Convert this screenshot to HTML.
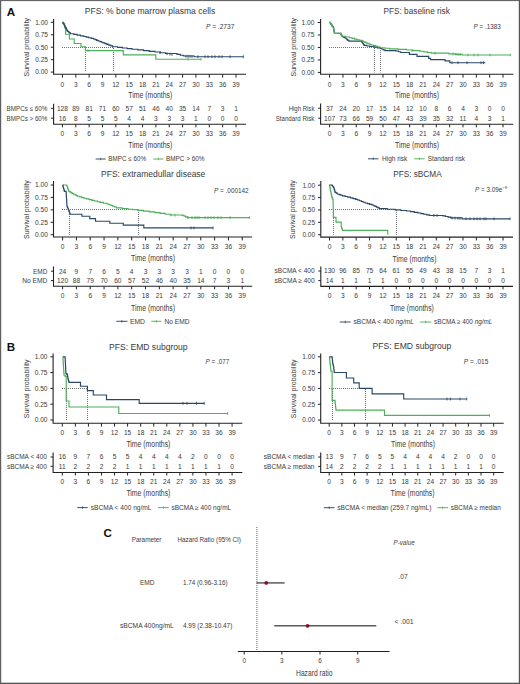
<!DOCTYPE html>
<html><head><meta charset="utf-8"><style>html,body{margin:0;padding:0;background:#fff;width:520px;height:684px;overflow:hidden;}svg{display:block;}</style></head><body>
<svg width="520" height="684" viewBox="0 0 520 684" font-family="'Liberation Sans', sans-serif" fill="#3a3a3a">
<rect x="0" y="0" width="520" height="684" fill="#fff"/>
<path d="M53.60,19.00V74.20H246.00" fill="none" stroke="#222" stroke-width="1.1"/>
<line x1="50.80" y1="72.10" x2="53.60" y2="72.10" stroke="#222" stroke-width="1.0" />
<text x="48.00" y="74.44" font-size="6.6" text-anchor="end" textLength="12.80" lengthAdjust="spacingAndGlyphs">0.00</text>
<line x1="50.80" y1="59.65" x2="53.60" y2="59.65" stroke="#222" stroke-width="1.0" />
<text x="48.00" y="61.99" font-size="6.6" text-anchor="end" textLength="12.80" lengthAdjust="spacingAndGlyphs">0.25</text>
<line x1="50.80" y1="47.20" x2="53.60" y2="47.20" stroke="#222" stroke-width="1.0" />
<text x="48.00" y="49.54" font-size="6.6" text-anchor="end" textLength="12.80" lengthAdjust="spacingAndGlyphs">0.50</text>
<line x1="50.80" y1="34.75" x2="53.60" y2="34.75" stroke="#222" stroke-width="1.0" />
<text x="48.00" y="37.09" font-size="6.6" text-anchor="end" textLength="12.80" lengthAdjust="spacingAndGlyphs">0.75</text>
<line x1="50.80" y1="22.30" x2="53.60" y2="22.30" stroke="#222" stroke-width="1.0" />
<text x="48.00" y="24.64" font-size="6.6" text-anchor="end" textLength="12.80" lengthAdjust="spacingAndGlyphs">1.00</text>
<line x1="62.45" y1="74.20" x2="62.45" y2="77.60" stroke="#222" stroke-width="1.0" />
<text x="62.45" y="86.54" font-size="6.6" text-anchor="middle">0</text>
<line x1="75.80" y1="74.20" x2="75.80" y2="77.60" stroke="#222" stroke-width="1.0" />
<text x="75.80" y="86.54" font-size="6.6" text-anchor="middle">3</text>
<line x1="89.15" y1="74.20" x2="89.15" y2="77.60" stroke="#222" stroke-width="1.0" />
<text x="89.15" y="86.54" font-size="6.6" text-anchor="middle">6</text>
<line x1="102.50" y1="74.20" x2="102.50" y2="77.60" stroke="#222" stroke-width="1.0" />
<text x="102.50" y="86.54" font-size="6.6" text-anchor="middle">9</text>
<line x1="115.85" y1="74.20" x2="115.85" y2="77.60" stroke="#222" stroke-width="1.0" />
<text x="115.85" y="86.54" font-size="6.6" text-anchor="middle">12</text>
<line x1="129.20" y1="74.20" x2="129.20" y2="77.60" stroke="#222" stroke-width="1.0" />
<text x="129.20" y="86.54" font-size="6.6" text-anchor="middle">15</text>
<line x1="142.55" y1="74.20" x2="142.55" y2="77.60" stroke="#222" stroke-width="1.0" />
<text x="142.55" y="86.54" font-size="6.6" text-anchor="middle">18</text>
<line x1="155.90" y1="74.20" x2="155.90" y2="77.60" stroke="#222" stroke-width="1.0" />
<text x="155.90" y="86.54" font-size="6.6" text-anchor="middle">21</text>
<line x1="169.25" y1="74.20" x2="169.25" y2="77.60" stroke="#222" stroke-width="1.0" />
<text x="169.25" y="86.54" font-size="6.6" text-anchor="middle">24</text>
<line x1="182.60" y1="74.20" x2="182.60" y2="77.60" stroke="#222" stroke-width="1.0" />
<text x="182.60" y="86.54" font-size="6.6" text-anchor="middle">27</text>
<line x1="195.95" y1="74.20" x2="195.95" y2="77.60" stroke="#222" stroke-width="1.0" />
<text x="195.95" y="86.54" font-size="6.6" text-anchor="middle">30</text>
<line x1="209.30" y1="74.20" x2="209.30" y2="77.60" stroke="#222" stroke-width="1.0" />
<text x="209.30" y="86.54" font-size="6.6" text-anchor="middle">33</text>
<line x1="222.65" y1="74.20" x2="222.65" y2="77.60" stroke="#222" stroke-width="1.0" />
<text x="222.65" y="86.54" font-size="6.6" text-anchor="middle">36</text>
<line x1="236.00" y1="74.20" x2="236.00" y2="77.60" stroke="#222" stroke-width="1.0" />
<text x="236.00" y="86.54" font-size="6.6" text-anchor="middle">39</text>
<text x="150.30" y="97.98" font-size="8.4" text-anchor="middle" textLength="44.00" lengthAdjust="spacingAndGlyphs">Time (months)</text>
<text x="29.30" y="47.20" font-size="7.0" text-anchor="middle" textLength="58.60" lengthAdjust="spacingAndGlyphs" transform="rotate(-90 29.30 47.20)">Survival probability</text>
<text x="150.00" y="14.27" font-size="9.2" text-anchor="middle" textLength="130.50" lengthAdjust="spacingAndGlyphs">PFS: % bone marrow plasma cells</text>
<text x="206.00" y="28.64" font-size="6.6" textLength="28.30" lengthAdjust="spacingAndGlyphs"><tspan font-style="italic">P</tspan> = .2737</text>
<line x1="62.00" y1="47.50" x2="113.70" y2="47.50" stroke="#707070" stroke-width="1.0" stroke-dasharray="1,1"/>
<line x1="85.50" y1="48.00" x2="85.50" y2="72.10" stroke="#707070" stroke-width="1.0" stroke-dasharray="1,1"/>
<line x1="113.50" y1="48.00" x2="113.50" y2="72.10" stroke="#707070" stroke-width="1.0" stroke-dasharray="1,1"/>
<path d="M62.40,22.30H63.10V22.90H63.80V23.50H64.60V28.00H65.60V34.20H69.40V39.00H74.20V43.50H81.00V46.70H85.40V50.60H123.30V54.80H155.80V59.20H201.00V59.20" fill="none" stroke="#4fae5a" stroke-width="1.15"/>
<path d="M62.40,22.30H62.82V22.94H63.24V23.58H63.66V24.22H64.08V24.86H64.50V25.50H64.88V26.23H65.25V26.95H65.62V27.68H66.00V28.40H66.38V29.12H66.75V29.85H67.12V30.58H67.50V31.30H68.47V32.10H69.43V32.90H70.40V33.70H73.75V34.40H77.10V35.10H80.45V35.80H83.80V36.50H86.22V37.12H88.65V37.75H91.08V38.38H93.50V39.00H95.08V39.65H96.67V40.30H98.25V40.95H99.83V41.60H101.42V42.25H103.00V42.90H104.94V43.66H106.88V44.42H108.82V45.18H110.76V45.94H112.70V46.70H117.53V47.33H122.35V47.95H127.17V48.58H132.00V49.20H137.75V49.90H143.50V50.60H149.25V51.30H155.00V52.00H160.20V52.75H165.40V53.50H177.00V54.40H180.35V55.20H183.70V56.00H194.20V56.70H243.30V56.70" fill="none" stroke="#2a4866" stroke-width="1.15"/>
<line x1="88.00" y1="49.20" x2="88.00" y2="52.00" stroke="#4fae5a" stroke-width="0.9" />
<line x1="188.00" y1="57.80" x2="188.00" y2="60.60" stroke="#4fae5a" stroke-width="0.9" />
<line x1="201.00" y1="57.80" x2="201.00" y2="60.60" stroke="#4fae5a" stroke-width="0.9" />
<line x1="160.00" y1="51.20" x2="160.00" y2="54.00" stroke="#2a4866" stroke-width="0.9" />
<line x1="167.00" y1="52.20" x2="167.00" y2="55.00" stroke="#2a4866" stroke-width="0.9" />
<line x1="170.00" y1="52.80" x2="170.00" y2="55.60" stroke="#2a4866" stroke-width="0.9" />
<line x1="172.00" y1="53.00" x2="172.00" y2="55.80" stroke="#2a4866" stroke-width="0.9" />
<line x1="186.00" y1="54.90" x2="186.00" y2="57.70" stroke="#2a4866" stroke-width="0.9" />
<line x1="188.00" y1="54.90" x2="188.00" y2="57.70" stroke="#2a4866" stroke-width="0.9" />
<line x1="190.00" y1="54.90" x2="190.00" y2="57.70" stroke="#2a4866" stroke-width="0.9" />
<line x1="192.00" y1="55.10" x2="192.00" y2="57.90" stroke="#2a4866" stroke-width="0.9" />
<line x1="198.00" y1="55.30" x2="198.00" y2="58.10" stroke="#2a4866" stroke-width="0.9" />
<line x1="205.00" y1="55.30" x2="205.00" y2="58.10" stroke="#2a4866" stroke-width="0.9" />
<line x1="208.00" y1="55.30" x2="208.00" y2="58.10" stroke="#2a4866" stroke-width="0.9" />
<line x1="212.00" y1="55.30" x2="212.00" y2="58.10" stroke="#2a4866" stroke-width="0.9" />
<line x1="215.00" y1="55.30" x2="215.00" y2="58.10" stroke="#2a4866" stroke-width="0.9" />
<line x1="219.00" y1="55.30" x2="219.00" y2="58.10" stroke="#2a4866" stroke-width="0.9" />
<line x1="222.00" y1="55.30" x2="222.00" y2="58.10" stroke="#2a4866" stroke-width="0.9" />
<line x1="230.00" y1="55.30" x2="230.00" y2="58.10" stroke="#2a4866" stroke-width="0.9" />
<line x1="243.30" y1="55.30" x2="243.30" y2="58.10" stroke="#2a4866" stroke-width="0.9" />
<path d="M53.60,103.80V124.30H246.00" fill="none" stroke="#222" stroke-width="1.1"/>
<line x1="51.10" y1="108.40" x2="53.60" y2="108.40" stroke="#222" stroke-width="1.0" />
<text x="47.40" y="110.89" font-size="7.0" text-anchor="end" textLength="40.80" lengthAdjust="spacingAndGlyphs">BMPCs ≤ 60%</text>
<text x="62.45" y="110.74" font-size="6.6" text-anchor="middle">128</text>
<text x="75.80" y="110.74" font-size="6.6" text-anchor="middle">89</text>
<text x="89.15" y="110.74" font-size="6.6" text-anchor="middle">81</text>
<text x="102.50" y="110.74" font-size="6.6" text-anchor="middle">71</text>
<text x="115.85" y="110.74" font-size="6.6" text-anchor="middle">60</text>
<text x="129.20" y="110.74" font-size="6.6" text-anchor="middle">57</text>
<text x="142.55" y="110.74" font-size="6.6" text-anchor="middle">51</text>
<text x="155.90" y="110.74" font-size="6.6" text-anchor="middle">46</text>
<text x="169.25" y="110.74" font-size="6.6" text-anchor="middle">40</text>
<text x="182.60" y="110.74" font-size="6.6" text-anchor="middle">35</text>
<text x="195.95" y="110.74" font-size="6.6" text-anchor="middle">14</text>
<text x="209.30" y="110.74" font-size="6.6" text-anchor="middle">7</text>
<text x="222.65" y="110.74" font-size="6.6" text-anchor="middle">3</text>
<text x="236.00" y="110.74" font-size="6.6" text-anchor="middle">1</text>
<line x1="51.10" y1="118.20" x2="53.60" y2="118.20" stroke="#222" stroke-width="1.0" />
<text x="47.40" y="120.69" font-size="7.0" text-anchor="end" textLength="40.80" lengthAdjust="spacingAndGlyphs">BMPCs &gt; 60%</text>
<text x="62.45" y="120.54" font-size="6.6" text-anchor="middle">16</text>
<text x="75.80" y="120.54" font-size="6.6" text-anchor="middle">8</text>
<text x="89.15" y="120.54" font-size="6.6" text-anchor="middle">5</text>
<text x="102.50" y="120.54" font-size="6.6" text-anchor="middle">5</text>
<text x="115.85" y="120.54" font-size="6.6" text-anchor="middle">5</text>
<text x="129.20" y="120.54" font-size="6.6" text-anchor="middle">4</text>
<text x="142.55" y="120.54" font-size="6.6" text-anchor="middle">4</text>
<text x="155.90" y="120.54" font-size="6.6" text-anchor="middle">3</text>
<text x="169.25" y="120.54" font-size="6.6" text-anchor="middle">3</text>
<text x="182.60" y="120.54" font-size="6.6" text-anchor="middle">3</text>
<text x="195.95" y="120.54" font-size="6.6" text-anchor="middle">1</text>
<text x="209.30" y="120.54" font-size="6.6" text-anchor="middle">0</text>
<text x="222.65" y="120.54" font-size="6.6" text-anchor="middle">0</text>
<text x="236.00" y="120.54" font-size="6.6" text-anchor="middle">0</text>
<line x1="62.45" y1="124.30" x2="62.45" y2="127.30" stroke="#222" stroke-width="1.0" />
<text x="62.45" y="135.94" font-size="6.6" text-anchor="middle">0</text>
<line x1="75.80" y1="124.30" x2="75.80" y2="127.30" stroke="#222" stroke-width="1.0" />
<text x="75.80" y="135.94" font-size="6.6" text-anchor="middle">3</text>
<line x1="89.15" y1="124.30" x2="89.15" y2="127.30" stroke="#222" stroke-width="1.0" />
<text x="89.15" y="135.94" font-size="6.6" text-anchor="middle">6</text>
<line x1="102.50" y1="124.30" x2="102.50" y2="127.30" stroke="#222" stroke-width="1.0" />
<text x="102.50" y="135.94" font-size="6.6" text-anchor="middle">9</text>
<line x1="115.85" y1="124.30" x2="115.85" y2="127.30" stroke="#222" stroke-width="1.0" />
<text x="115.85" y="135.94" font-size="6.6" text-anchor="middle">12</text>
<line x1="129.20" y1="124.30" x2="129.20" y2="127.30" stroke="#222" stroke-width="1.0" />
<text x="129.20" y="135.94" font-size="6.6" text-anchor="middle">15</text>
<line x1="142.55" y1="124.30" x2="142.55" y2="127.30" stroke="#222" stroke-width="1.0" />
<text x="142.55" y="135.94" font-size="6.6" text-anchor="middle">18</text>
<line x1="155.90" y1="124.30" x2="155.90" y2="127.30" stroke="#222" stroke-width="1.0" />
<text x="155.90" y="135.94" font-size="6.6" text-anchor="middle">21</text>
<line x1="169.25" y1="124.30" x2="169.25" y2="127.30" stroke="#222" stroke-width="1.0" />
<text x="169.25" y="135.94" font-size="6.6" text-anchor="middle">24</text>
<line x1="182.60" y1="124.30" x2="182.60" y2="127.30" stroke="#222" stroke-width="1.0" />
<text x="182.60" y="135.94" font-size="6.6" text-anchor="middle">27</text>
<line x1="195.95" y1="124.30" x2="195.95" y2="127.30" stroke="#222" stroke-width="1.0" />
<text x="195.95" y="135.94" font-size="6.6" text-anchor="middle">30</text>
<line x1="209.30" y1="124.30" x2="209.30" y2="127.30" stroke="#222" stroke-width="1.0" />
<text x="209.30" y="135.94" font-size="6.6" text-anchor="middle">33</text>
<line x1="222.65" y1="124.30" x2="222.65" y2="127.30" stroke="#222" stroke-width="1.0" />
<text x="222.65" y="135.94" font-size="6.6" text-anchor="middle">36</text>
<line x1="236.00" y1="124.30" x2="236.00" y2="127.30" stroke="#222" stroke-width="1.0" />
<text x="236.00" y="135.94" font-size="6.6" text-anchor="middle">39</text>
<text x="150.30" y="147.88" font-size="8.4" text-anchor="middle" textLength="44.00" lengthAdjust="spacingAndGlyphs">Time (months)</text>
<line x1="95.60" y1="159.00" x2="105.60" y2="159.00" stroke="#2a4866" stroke-width="0.95" />
<line x1="100.60" y1="157.70" x2="100.60" y2="160.30" stroke="#2a4866" stroke-width="0.7" />
<text x="108.30" y="161.49" font-size="7.0" textLength="37.70" lengthAdjust="spacingAndGlyphs">BMPC ≤ 60%</text>
<line x1="153.30" y1="159.00" x2="163.50" y2="159.00" stroke="#4fae5a" stroke-width="0.95" />
<line x1="158.40" y1="157.70" x2="158.40" y2="160.30" stroke="#4fae5a" stroke-width="0.7" />
<text x="166.00" y="161.49" font-size="7.0" textLength="38.50" lengthAdjust="spacingAndGlyphs">BMPC &gt; 60%</text>
<path d="M320.60,19.00V74.20H513.30" fill="none" stroke="#222" stroke-width="1.1"/>
<line x1="317.80" y1="72.40" x2="320.60" y2="72.40" stroke="#222" stroke-width="1.0" />
<text x="314.40" y="74.74" font-size="6.6" text-anchor="end" textLength="12.80" lengthAdjust="spacingAndGlyphs">0.00</text>
<line x1="317.80" y1="59.93" x2="320.60" y2="59.93" stroke="#222" stroke-width="1.0" />
<text x="314.40" y="62.27" font-size="6.6" text-anchor="end" textLength="12.80" lengthAdjust="spacingAndGlyphs">0.25</text>
<line x1="317.80" y1="47.45" x2="320.60" y2="47.45" stroke="#222" stroke-width="1.0" />
<text x="314.40" y="49.79" font-size="6.6" text-anchor="end" textLength="12.80" lengthAdjust="spacingAndGlyphs">0.50</text>
<line x1="317.80" y1="34.98" x2="320.60" y2="34.98" stroke="#222" stroke-width="1.0" />
<text x="314.40" y="37.32" font-size="6.6" text-anchor="end" textLength="12.80" lengthAdjust="spacingAndGlyphs">0.75</text>
<line x1="317.80" y1="22.50" x2="320.60" y2="22.50" stroke="#222" stroke-width="1.0" />
<text x="314.40" y="24.84" font-size="6.6" text-anchor="end" textLength="12.80" lengthAdjust="spacingAndGlyphs">1.00</text>
<line x1="329.60" y1="74.20" x2="329.60" y2="77.60" stroke="#222" stroke-width="1.0" />
<text x="329.60" y="86.54" font-size="6.6" text-anchor="middle">0</text>
<line x1="342.94" y1="74.20" x2="342.94" y2="77.60" stroke="#222" stroke-width="1.0" />
<text x="342.94" y="86.54" font-size="6.6" text-anchor="middle">3</text>
<line x1="356.28" y1="74.20" x2="356.28" y2="77.60" stroke="#222" stroke-width="1.0" />
<text x="356.28" y="86.54" font-size="6.6" text-anchor="middle">6</text>
<line x1="369.62" y1="74.20" x2="369.62" y2="77.60" stroke="#222" stroke-width="1.0" />
<text x="369.62" y="86.54" font-size="6.6" text-anchor="middle">9</text>
<line x1="382.96" y1="74.20" x2="382.96" y2="77.60" stroke="#222" stroke-width="1.0" />
<text x="382.96" y="86.54" font-size="6.6" text-anchor="middle">12</text>
<line x1="396.30" y1="74.20" x2="396.30" y2="77.60" stroke="#222" stroke-width="1.0" />
<text x="396.30" y="86.54" font-size="6.6" text-anchor="middle">15</text>
<line x1="409.64" y1="74.20" x2="409.64" y2="77.60" stroke="#222" stroke-width="1.0" />
<text x="409.64" y="86.54" font-size="6.6" text-anchor="middle">18</text>
<line x1="422.98" y1="74.20" x2="422.98" y2="77.60" stroke="#222" stroke-width="1.0" />
<text x="422.98" y="86.54" font-size="6.6" text-anchor="middle">21</text>
<line x1="436.32" y1="74.20" x2="436.32" y2="77.60" stroke="#222" stroke-width="1.0" />
<text x="436.32" y="86.54" font-size="6.6" text-anchor="middle">24</text>
<line x1="449.66" y1="74.20" x2="449.66" y2="77.60" stroke="#222" stroke-width="1.0" />
<text x="449.66" y="86.54" font-size="6.6" text-anchor="middle">27</text>
<line x1="463.00" y1="74.20" x2="463.00" y2="77.60" stroke="#222" stroke-width="1.0" />
<text x="463.00" y="86.54" font-size="6.6" text-anchor="middle">30</text>
<line x1="476.34" y1="74.20" x2="476.34" y2="77.60" stroke="#222" stroke-width="1.0" />
<text x="476.34" y="86.54" font-size="6.6" text-anchor="middle">33</text>
<line x1="489.68" y1="74.20" x2="489.68" y2="77.60" stroke="#222" stroke-width="1.0" />
<text x="489.68" y="86.54" font-size="6.6" text-anchor="middle">36</text>
<line x1="503.02" y1="74.20" x2="503.02" y2="77.60" stroke="#222" stroke-width="1.0" />
<text x="503.02" y="86.54" font-size="6.6" text-anchor="middle">39</text>
<text x="417.00" y="97.98" font-size="8.4" text-anchor="middle" textLength="44.00" lengthAdjust="spacingAndGlyphs">Time (months)</text>
<text x="296.50" y="47.20" font-size="7.0" text-anchor="middle" textLength="58.60" lengthAdjust="spacingAndGlyphs" transform="rotate(-90 296.50 47.20)">Survival probability</text>
<text x="416.70" y="14.47" font-size="9.2" text-anchor="middle" textLength="66.30" lengthAdjust="spacingAndGlyphs">PFS: baseline risk</text>
<text x="473.50" y="28.64" font-size="6.6" textLength="27.30" lengthAdjust="spacingAndGlyphs"><tspan font-style="italic">P</tspan> = .1383</text>
<line x1="329.00" y1="47.50" x2="380.40" y2="47.50" stroke="#707070" stroke-width="1.0" stroke-dasharray="1,1"/>
<line x1="374.50" y1="48.00" x2="374.50" y2="72.40" stroke="#707070" stroke-width="1.0" stroke-dasharray="1,1"/>
<line x1="380.50" y1="48.00" x2="380.50" y2="72.40" stroke="#707070" stroke-width="1.0" stroke-dasharray="1,1"/>
<path d="M329.60,22.30H330.09V23.01H330.58V23.73H331.06V24.44H331.55V25.15H332.04V25.86H332.52V26.57H333.01V27.29H333.50V28.00H333.62V28.68H333.75V29.35H333.88V30.02H334.00V30.70H334.12V31.38H334.25V32.05H334.38V32.73H334.50V33.40H340.40V33.40H340.80V34.10H341.20V34.80H341.60V35.50H342.00V36.20H343.00V36.80H344.00V37.40H345.00V38.00H345.95V38.77H346.90V39.55H347.85V40.33H348.80V41.10H361.20V41.10H361.70V41.82H362.20V42.53H362.70V43.25H363.20V43.97H363.70V44.68H364.20V45.40H366.90V45.95H369.60V46.50H374.20V47.20H377.30V47.85H380.40V48.50H381.93V49.20H383.47V49.90H385.00V50.60H395.80V51.00H398.30V51.75H400.80V52.50H409.40V54.40H417.00V56.30H428.70V58.30H430.60V59.60H445.00V60.80H449.80V62.70H485.40V62.70" fill="none" stroke="#2a4866" stroke-width="1.15"/>
<path d="M329.60,22.30H330.09V23.01H330.58V23.73H331.06V24.44H331.55V25.15H332.04V25.86H332.52V26.57H333.01V27.29H333.50V28.00H333.62V28.68H333.75V29.35H333.88V30.02H334.00V30.70H334.12V31.38H334.25V32.05H334.38V32.73H334.50V33.40H340.40V33.40H340.80V34.10H341.20V34.80H341.60V35.50H342.00V36.20H345.80V36.95H349.60V37.70H352.08V38.38H354.56V39.06H357.04V39.74H359.52V40.42H362.00V41.10H363.50V41.75H365.00V42.40H366.50V43.05H368.00V43.70H369.50V44.35H371.00V45.00H373.35V45.67H375.70V46.35H378.05V47.03H380.40V47.70H385.00V48.25H389.60V48.80H398.05V49.40H406.50V50.00H413.25V50.60H420.00V51.20H423.83V51.83H427.67V52.47H431.50V53.10H448.80V53.80H455.55V54.40H462.30V55.00H510.30V55.00" fill="none" stroke="#4fae5a" stroke-width="1.15"/>
<line x1="412.00" y1="49.20" x2="412.00" y2="52.00" stroke="#4fae5a" stroke-width="0.9" />
<line x1="435.00" y1="51.90" x2="435.00" y2="54.70" stroke="#4fae5a" stroke-width="0.9" />
<line x1="453.00" y1="52.60" x2="453.00" y2="55.40" stroke="#4fae5a" stroke-width="0.9" />
<line x1="456.00" y1="52.80" x2="456.00" y2="55.60" stroke="#4fae5a" stroke-width="0.9" />
<line x1="458.00" y1="53.00" x2="458.00" y2="55.80" stroke="#4fae5a" stroke-width="0.9" />
<line x1="460.00" y1="53.20" x2="460.00" y2="56.00" stroke="#4fae5a" stroke-width="0.9" />
<line x1="468.00" y1="53.60" x2="468.00" y2="56.40" stroke="#4fae5a" stroke-width="0.9" />
<line x1="474.00" y1="53.60" x2="474.00" y2="56.40" stroke="#4fae5a" stroke-width="0.9" />
<line x1="478.00" y1="53.60" x2="478.00" y2="56.40" stroke="#4fae5a" stroke-width="0.9" />
<line x1="490.00" y1="53.60" x2="490.00" y2="56.40" stroke="#4fae5a" stroke-width="0.9" />
<line x1="510.30" y1="53.60" x2="510.30" y2="56.40" stroke="#4fae5a" stroke-width="0.9" />
<line x1="452.00" y1="61.30" x2="452.00" y2="64.10" stroke="#2a4866" stroke-width="0.9" />
<line x1="458.00" y1="61.30" x2="458.00" y2="64.10" stroke="#2a4866" stroke-width="0.9" />
<line x1="467.00" y1="61.30" x2="467.00" y2="64.10" stroke="#2a4866" stroke-width="0.9" />
<line x1="481.00" y1="61.30" x2="481.00" y2="64.10" stroke="#2a4866" stroke-width="0.9" />
<line x1="483.50" y1="61.30" x2="483.50" y2="64.10" stroke="#2a4866" stroke-width="0.9" />
<path d="M320.60,103.60V124.30H513.30" fill="none" stroke="#222" stroke-width="1.1"/>
<line x1="318.10" y1="108.20" x2="320.60" y2="108.20" stroke="#222" stroke-width="1.0" />
<text x="314.40" y="110.69" font-size="7.0" text-anchor="end" textLength="25.75" lengthAdjust="spacingAndGlyphs">High Risk</text>
<text x="329.60" y="110.54" font-size="6.6" text-anchor="middle">37</text>
<text x="342.94" y="110.54" font-size="6.6" text-anchor="middle">24</text>
<text x="356.28" y="110.54" font-size="6.6" text-anchor="middle">20</text>
<text x="369.62" y="110.54" font-size="6.6" text-anchor="middle">17</text>
<text x="382.96" y="110.54" font-size="6.6" text-anchor="middle">15</text>
<text x="396.30" y="110.54" font-size="6.6" text-anchor="middle">14</text>
<text x="409.64" y="110.54" font-size="6.6" text-anchor="middle">12</text>
<text x="422.98" y="110.54" font-size="6.6" text-anchor="middle">10</text>
<text x="436.32" y="110.54" font-size="6.6" text-anchor="middle">8</text>
<text x="449.66" y="110.54" font-size="6.6" text-anchor="middle">6</text>
<text x="463.00" y="110.54" font-size="6.6" text-anchor="middle">4</text>
<text x="476.34" y="110.54" font-size="6.6" text-anchor="middle">3</text>
<text x="489.68" y="110.54" font-size="6.6" text-anchor="middle">0</text>
<text x="503.02" y="110.54" font-size="6.6" text-anchor="middle">0</text>
<line x1="318.10" y1="118.20" x2="320.60" y2="118.20" stroke="#222" stroke-width="1.0" />
<text x="314.40" y="120.69" font-size="7.0" text-anchor="end" textLength="38.75" lengthAdjust="spacingAndGlyphs">Standard Risk</text>
<text x="329.60" y="120.54" font-size="6.6" text-anchor="middle">107</text>
<text x="342.94" y="120.54" font-size="6.6" text-anchor="middle">73</text>
<text x="356.28" y="120.54" font-size="6.6" text-anchor="middle">66</text>
<text x="369.62" y="120.54" font-size="6.6" text-anchor="middle">59</text>
<text x="382.96" y="120.54" font-size="6.6" text-anchor="middle">50</text>
<text x="396.30" y="120.54" font-size="6.6" text-anchor="middle">47</text>
<text x="409.64" y="120.54" font-size="6.6" text-anchor="middle">43</text>
<text x="422.98" y="120.54" font-size="6.6" text-anchor="middle">39</text>
<text x="436.32" y="120.54" font-size="6.6" text-anchor="middle">35</text>
<text x="449.66" y="120.54" font-size="6.6" text-anchor="middle">32</text>
<text x="463.00" y="120.54" font-size="6.6" text-anchor="middle">11</text>
<text x="476.34" y="120.54" font-size="6.6" text-anchor="middle">4</text>
<text x="489.68" y="120.54" font-size="6.6" text-anchor="middle">3</text>
<text x="503.02" y="120.54" font-size="6.6" text-anchor="middle">1</text>
<line x1="329.60" y1="124.30" x2="329.60" y2="127.30" stroke="#222" stroke-width="1.0" />
<text x="329.60" y="135.94" font-size="6.6" text-anchor="middle">0</text>
<line x1="342.94" y1="124.30" x2="342.94" y2="127.30" stroke="#222" stroke-width="1.0" />
<text x="342.94" y="135.94" font-size="6.6" text-anchor="middle">3</text>
<line x1="356.28" y1="124.30" x2="356.28" y2="127.30" stroke="#222" stroke-width="1.0" />
<text x="356.28" y="135.94" font-size="6.6" text-anchor="middle">6</text>
<line x1="369.62" y1="124.30" x2="369.62" y2="127.30" stroke="#222" stroke-width="1.0" />
<text x="369.62" y="135.94" font-size="6.6" text-anchor="middle">9</text>
<line x1="382.96" y1="124.30" x2="382.96" y2="127.30" stroke="#222" stroke-width="1.0" />
<text x="382.96" y="135.94" font-size="6.6" text-anchor="middle">12</text>
<line x1="396.30" y1="124.30" x2="396.30" y2="127.30" stroke="#222" stroke-width="1.0" />
<text x="396.30" y="135.94" font-size="6.6" text-anchor="middle">15</text>
<line x1="409.64" y1="124.30" x2="409.64" y2="127.30" stroke="#222" stroke-width="1.0" />
<text x="409.64" y="135.94" font-size="6.6" text-anchor="middle">18</text>
<line x1="422.98" y1="124.30" x2="422.98" y2="127.30" stroke="#222" stroke-width="1.0" />
<text x="422.98" y="135.94" font-size="6.6" text-anchor="middle">21</text>
<line x1="436.32" y1="124.30" x2="436.32" y2="127.30" stroke="#222" stroke-width="1.0" />
<text x="436.32" y="135.94" font-size="6.6" text-anchor="middle">24</text>
<line x1="449.66" y1="124.30" x2="449.66" y2="127.30" stroke="#222" stroke-width="1.0" />
<text x="449.66" y="135.94" font-size="6.6" text-anchor="middle">27</text>
<line x1="463.00" y1="124.30" x2="463.00" y2="127.30" stroke="#222" stroke-width="1.0" />
<text x="463.00" y="135.94" font-size="6.6" text-anchor="middle">30</text>
<line x1="476.34" y1="124.30" x2="476.34" y2="127.30" stroke="#222" stroke-width="1.0" />
<text x="476.34" y="135.94" font-size="6.6" text-anchor="middle">33</text>
<line x1="489.68" y1="124.30" x2="489.68" y2="127.30" stroke="#222" stroke-width="1.0" />
<text x="489.68" y="135.94" font-size="6.6" text-anchor="middle">36</text>
<line x1="503.02" y1="124.30" x2="503.02" y2="127.30" stroke="#222" stroke-width="1.0" />
<text x="503.02" y="135.94" font-size="6.6" text-anchor="middle">39</text>
<text x="417.00" y="147.98" font-size="8.4" text-anchor="middle" textLength="44.00" lengthAdjust="spacingAndGlyphs">Time (months)</text>
<line x1="368.00" y1="158.80" x2="378.50" y2="158.80" stroke="#2a4866" stroke-width="0.95" />
<line x1="373.25" y1="157.50" x2="373.25" y2="160.10" stroke="#2a4866" stroke-width="0.7" />
<text x="382.00" y="161.29" font-size="7.0" textLength="25.30" lengthAdjust="spacingAndGlyphs">High risk</text>
<line x1="414.30" y1="158.80" x2="424.70" y2="158.80" stroke="#4fae5a" stroke-width="0.95" />
<line x1="419.50" y1="157.50" x2="419.50" y2="160.10" stroke="#4fae5a" stroke-width="0.7" />
<text x="427.70" y="161.29" font-size="7.0" textLength="37.30" lengthAdjust="spacingAndGlyphs">Standard risk</text>
<path d="M53.50,181.00V237.00H252.20" fill="none" stroke="#222" stroke-width="1.1"/>
<line x1="50.70" y1="234.70" x2="53.50" y2="234.70" stroke="#222" stroke-width="1.0" />
<text x="47.90" y="237.04" font-size="6.6" text-anchor="end" textLength="12.80" lengthAdjust="spacingAndGlyphs">0.00</text>
<line x1="50.70" y1="222.27" x2="53.50" y2="222.27" stroke="#222" stroke-width="1.0" />
<text x="47.90" y="224.62" font-size="6.6" text-anchor="end" textLength="12.80" lengthAdjust="spacingAndGlyphs">0.25</text>
<line x1="50.70" y1="209.85" x2="53.50" y2="209.85" stroke="#222" stroke-width="1.0" />
<text x="47.90" y="212.19" font-size="6.6" text-anchor="end" textLength="12.80" lengthAdjust="spacingAndGlyphs">0.50</text>
<line x1="50.70" y1="197.43" x2="53.50" y2="197.43" stroke="#222" stroke-width="1.0" />
<text x="47.90" y="199.77" font-size="6.6" text-anchor="end" textLength="12.80" lengthAdjust="spacingAndGlyphs">0.75</text>
<line x1="50.70" y1="185.00" x2="53.50" y2="185.00" stroke="#222" stroke-width="1.0" />
<text x="47.90" y="187.34" font-size="6.6" text-anchor="end" textLength="12.80" lengthAdjust="spacingAndGlyphs">1.00</text>
<line x1="62.60" y1="237.00" x2="62.60" y2="240.40" stroke="#222" stroke-width="1.0" />
<text x="62.60" y="248.84" font-size="6.6" text-anchor="middle">0</text>
<line x1="76.42" y1="237.00" x2="76.42" y2="240.40" stroke="#222" stroke-width="1.0" />
<text x="76.42" y="248.84" font-size="6.6" text-anchor="middle">3</text>
<line x1="90.24" y1="237.00" x2="90.24" y2="240.40" stroke="#222" stroke-width="1.0" />
<text x="90.24" y="248.84" font-size="6.6" text-anchor="middle">6</text>
<line x1="104.06" y1="237.00" x2="104.06" y2="240.40" stroke="#222" stroke-width="1.0" />
<text x="104.06" y="248.84" font-size="6.6" text-anchor="middle">9</text>
<line x1="117.88" y1="237.00" x2="117.88" y2="240.40" stroke="#222" stroke-width="1.0" />
<text x="117.88" y="248.84" font-size="6.6" text-anchor="middle">12</text>
<line x1="131.70" y1="237.00" x2="131.70" y2="240.40" stroke="#222" stroke-width="1.0" />
<text x="131.70" y="248.84" font-size="6.6" text-anchor="middle">15</text>
<line x1="145.52" y1="237.00" x2="145.52" y2="240.40" stroke="#222" stroke-width="1.0" />
<text x="145.52" y="248.84" font-size="6.6" text-anchor="middle">18</text>
<line x1="159.34" y1="237.00" x2="159.34" y2="240.40" stroke="#222" stroke-width="1.0" />
<text x="159.34" y="248.84" font-size="6.6" text-anchor="middle">21</text>
<line x1="173.16" y1="237.00" x2="173.16" y2="240.40" stroke="#222" stroke-width="1.0" />
<text x="173.16" y="248.84" font-size="6.6" text-anchor="middle">24</text>
<line x1="186.98" y1="237.00" x2="186.98" y2="240.40" stroke="#222" stroke-width="1.0" />
<text x="186.98" y="248.84" font-size="6.6" text-anchor="middle">27</text>
<line x1="200.80" y1="237.00" x2="200.80" y2="240.40" stroke="#222" stroke-width="1.0" />
<text x="200.80" y="248.84" font-size="6.6" text-anchor="middle">30</text>
<line x1="214.62" y1="237.00" x2="214.62" y2="240.40" stroke="#222" stroke-width="1.0" />
<text x="214.62" y="248.84" font-size="6.6" text-anchor="middle">33</text>
<line x1="228.44" y1="237.00" x2="228.44" y2="240.40" stroke="#222" stroke-width="1.0" />
<text x="228.44" y="248.84" font-size="6.6" text-anchor="middle">36</text>
<line x1="242.26" y1="237.00" x2="242.26" y2="240.40" stroke="#222" stroke-width="1.0" />
<text x="242.26" y="248.84" font-size="6.6" text-anchor="middle">39</text>
<text x="153.10" y="260.98" font-size="8.4" text-anchor="middle" textLength="44.00" lengthAdjust="spacingAndGlyphs">Time (months)</text>
<text x="29.30" y="209.60" font-size="7.0" text-anchor="middle" textLength="58.60" lengthAdjust="spacingAndGlyphs" transform="rotate(-90 29.30 209.60)">Survival probability</text>
<text x="153.20" y="176.57" font-size="9.2" text-anchor="middle" textLength="104.30" lengthAdjust="spacingAndGlyphs">PFS: extramedullar disease</text>
<text x="214.00" y="192.54" font-size="6.6" textLength="34.70" lengthAdjust="spacingAndGlyphs"><tspan font-style="italic">P</tspan> = .000142</text>
<line x1="62.00" y1="209.50" x2="138.70" y2="209.50" stroke="#707070" stroke-width="1.0" stroke-dasharray="1,1"/>
<line x1="69.50" y1="210.00" x2="69.50" y2="234.70" stroke="#707070" stroke-width="1.0" stroke-dasharray="1,1"/>
<line x1="138.50" y1="210.00" x2="138.50" y2="234.70" stroke="#707070" stroke-width="1.0" stroke-dasharray="1,1"/>
<path d="M62.60,185.00H66.60V185.00H66.84V185.71H67.09V186.42H67.33V187.13H67.58V187.84H67.82V188.56H68.07V189.27H68.31V189.98H68.56V190.69H68.80V191.40H69.97V192.13H71.13V192.87H72.30V193.60H73.60V194.25H74.90V194.90H76.20V195.55H77.50V196.20H79.70V196.88H81.90V197.55H84.10V198.22H86.30V198.90H89.04V199.60H91.78V200.30H94.52V201.00H97.26V201.70H100.00V202.40H103.50V203.20H107.00V204.00H108.90V204.76H110.80V205.52H112.70V206.28H114.60V207.04H116.50V207.80H122.25V208.50H128.00V209.20H132.85V209.75H137.70V210.30H143.47V211.07H149.23V211.83H155.00V212.60H160.10V213.40H165.15V214.20H170.20V215.00H182.30V215.40H184.00V216.13H185.70V216.87H187.40V217.60H249.40V217.60" fill="none" stroke="#4fae5a" stroke-width="1.15"/>
<path d="M62.60,185.00H62.80V185.71H63.00V186.42H63.20V187.13H63.40V187.84H63.60V188.56H63.80V189.27H64.00V189.98H64.20V190.69H64.40V191.40H66.10V191.80H66.14V192.49H66.19V193.18H66.23V193.87H66.27V194.56H66.31V195.25H66.36V195.94H66.40V196.63H66.44V197.32H66.49V198.01H66.53V198.70H66.57V199.40H66.61V200.09H66.66V200.78H66.70V201.47H66.74V202.16H66.79V202.85H66.83V203.54H66.87V204.23H66.91V204.92H66.96V205.61H67.00V206.30H67.30V207.03H67.60V207.77H67.90V208.50H68.20V209.23H68.50V209.97H68.80V210.70H69.06V211.40H69.32V212.10H69.58V212.80H69.84V213.50H70.10V214.20H81.90V216.20H89.80V218.60H95.50V221.20H109.80V223.20H123.30V225.10H143.80V227.90H213.00V227.90" fill="none" stroke="#2a4866" stroke-width="1.15"/>
<line x1="171.00" y1="213.60" x2="171.00" y2="216.40" stroke="#4fae5a" stroke-width="0.9" />
<line x1="175.00" y1="213.80" x2="175.00" y2="216.60" stroke="#4fae5a" stroke-width="0.9" />
<line x1="188.00" y1="216.20" x2="188.00" y2="219.00" stroke="#4fae5a" stroke-width="0.9" />
<line x1="192.00" y1="216.20" x2="192.00" y2="219.00" stroke="#4fae5a" stroke-width="0.9" />
<line x1="195.00" y1="216.20" x2="195.00" y2="219.00" stroke="#4fae5a" stroke-width="0.9" />
<line x1="197.00" y1="216.20" x2="197.00" y2="219.00" stroke="#4fae5a" stroke-width="0.9" />
<line x1="199.00" y1="216.20" x2="199.00" y2="219.00" stroke="#4fae5a" stroke-width="0.9" />
<line x1="205.00" y1="216.20" x2="205.00" y2="219.00" stroke="#4fae5a" stroke-width="0.9" />
<line x1="208.00" y1="216.20" x2="208.00" y2="219.00" stroke="#4fae5a" stroke-width="0.9" />
<line x1="211.00" y1="216.20" x2="211.00" y2="219.00" stroke="#4fae5a" stroke-width="0.9" />
<line x1="214.00" y1="216.20" x2="214.00" y2="219.00" stroke="#4fae5a" stroke-width="0.9" />
<line x1="218.00" y1="216.20" x2="218.00" y2="219.00" stroke="#4fae5a" stroke-width="0.9" />
<line x1="221.00" y1="216.20" x2="221.00" y2="219.00" stroke="#4fae5a" stroke-width="0.9" />
<line x1="230.00" y1="216.20" x2="230.00" y2="219.00" stroke="#4fae5a" stroke-width="0.9" />
<line x1="249.40" y1="216.20" x2="249.40" y2="219.00" stroke="#4fae5a" stroke-width="0.9" />
<line x1="191.00" y1="226.50" x2="191.00" y2="229.30" stroke="#2a4866" stroke-width="0.9" />
<line x1="194.00" y1="226.50" x2="194.00" y2="229.30" stroke="#2a4866" stroke-width="0.9" />
<line x1="213.00" y1="226.50" x2="213.00" y2="229.30" stroke="#2a4866" stroke-width="0.9" />
<path d="M53.50,266.60V286.30H252.20" fill="none" stroke="#222" stroke-width="1.1"/>
<line x1="51.00" y1="271.20" x2="53.50" y2="271.20" stroke="#222" stroke-width="1.0" />
<text x="47.30" y="273.69" font-size="7.0" text-anchor="end" textLength="14.30" lengthAdjust="spacingAndGlyphs">EMD</text>
<text x="62.60" y="273.54" font-size="6.6" text-anchor="middle">24</text>
<text x="76.42" y="273.54" font-size="6.6" text-anchor="middle">9</text>
<text x="90.24" y="273.54" font-size="6.6" text-anchor="middle">7</text>
<text x="104.06" y="273.54" font-size="6.6" text-anchor="middle">6</text>
<text x="117.88" y="273.54" font-size="6.6" text-anchor="middle">5</text>
<text x="131.70" y="273.54" font-size="6.6" text-anchor="middle">4</text>
<text x="145.52" y="273.54" font-size="6.6" text-anchor="middle">3</text>
<text x="159.34" y="273.54" font-size="6.6" text-anchor="middle">3</text>
<text x="173.16" y="273.54" font-size="6.6" text-anchor="middle">3</text>
<text x="186.98" y="273.54" font-size="6.6" text-anchor="middle">3</text>
<text x="200.80" y="273.54" font-size="6.6" text-anchor="middle">1</text>
<text x="214.62" y="273.54" font-size="6.6" text-anchor="middle">0</text>
<text x="228.44" y="273.54" font-size="6.6" text-anchor="middle">0</text>
<text x="242.26" y="273.54" font-size="6.6" text-anchor="middle">0</text>
<line x1="51.00" y1="280.60" x2="53.50" y2="280.60" stroke="#222" stroke-width="1.0" />
<text x="47.30" y="283.09" font-size="7.0" text-anchor="end" textLength="25.00" lengthAdjust="spacingAndGlyphs">No EMD</text>
<text x="62.60" y="282.94" font-size="6.6" text-anchor="middle">120</text>
<text x="76.42" y="282.94" font-size="6.6" text-anchor="middle">88</text>
<text x="90.24" y="282.94" font-size="6.6" text-anchor="middle">79</text>
<text x="104.06" y="282.94" font-size="6.6" text-anchor="middle">70</text>
<text x="117.88" y="282.94" font-size="6.6" text-anchor="middle">60</text>
<text x="131.70" y="282.94" font-size="6.6" text-anchor="middle">57</text>
<text x="145.52" y="282.94" font-size="6.6" text-anchor="middle">52</text>
<text x="159.34" y="282.94" font-size="6.6" text-anchor="middle">46</text>
<text x="173.16" y="282.94" font-size="6.6" text-anchor="middle">40</text>
<text x="186.98" y="282.94" font-size="6.6" text-anchor="middle">35</text>
<text x="200.80" y="282.94" font-size="6.6" text-anchor="middle">14</text>
<text x="214.62" y="282.94" font-size="6.6" text-anchor="middle">7</text>
<text x="228.44" y="282.94" font-size="6.6" text-anchor="middle">3</text>
<text x="242.26" y="282.94" font-size="6.6" text-anchor="middle">1</text>
<line x1="62.60" y1="286.30" x2="62.60" y2="289.30" stroke="#222" stroke-width="1.0" />
<text x="62.60" y="297.94" font-size="6.6" text-anchor="middle">0</text>
<line x1="76.42" y1="286.30" x2="76.42" y2="289.30" stroke="#222" stroke-width="1.0" />
<text x="76.42" y="297.94" font-size="6.6" text-anchor="middle">3</text>
<line x1="90.24" y1="286.30" x2="90.24" y2="289.30" stroke="#222" stroke-width="1.0" />
<text x="90.24" y="297.94" font-size="6.6" text-anchor="middle">6</text>
<line x1="104.06" y1="286.30" x2="104.06" y2="289.30" stroke="#222" stroke-width="1.0" />
<text x="104.06" y="297.94" font-size="6.6" text-anchor="middle">9</text>
<line x1="117.88" y1="286.30" x2="117.88" y2="289.30" stroke="#222" stroke-width="1.0" />
<text x="117.88" y="297.94" font-size="6.6" text-anchor="middle">12</text>
<line x1="131.70" y1="286.30" x2="131.70" y2="289.30" stroke="#222" stroke-width="1.0" />
<text x="131.70" y="297.94" font-size="6.6" text-anchor="middle">15</text>
<line x1="145.52" y1="286.30" x2="145.52" y2="289.30" stroke="#222" stroke-width="1.0" />
<text x="145.52" y="297.94" font-size="6.6" text-anchor="middle">18</text>
<line x1="159.34" y1="286.30" x2="159.34" y2="289.30" stroke="#222" stroke-width="1.0" />
<text x="159.34" y="297.94" font-size="6.6" text-anchor="middle">21</text>
<line x1="173.16" y1="286.30" x2="173.16" y2="289.30" stroke="#222" stroke-width="1.0" />
<text x="173.16" y="297.94" font-size="6.6" text-anchor="middle">24</text>
<line x1="186.98" y1="286.30" x2="186.98" y2="289.30" stroke="#222" stroke-width="1.0" />
<text x="186.98" y="297.94" font-size="6.6" text-anchor="middle">27</text>
<line x1="200.80" y1="286.30" x2="200.80" y2="289.30" stroke="#222" stroke-width="1.0" />
<text x="200.80" y="297.94" font-size="6.6" text-anchor="middle">30</text>
<line x1="214.62" y1="286.30" x2="214.62" y2="289.30" stroke="#222" stroke-width="1.0" />
<text x="214.62" y="297.94" font-size="6.6" text-anchor="middle">33</text>
<line x1="228.44" y1="286.30" x2="228.44" y2="289.30" stroke="#222" stroke-width="1.0" />
<text x="228.44" y="297.94" font-size="6.6" text-anchor="middle">36</text>
<line x1="242.26" y1="286.30" x2="242.26" y2="289.30" stroke="#222" stroke-width="1.0" />
<text x="242.26" y="297.94" font-size="6.6" text-anchor="middle">39</text>
<text x="153.10" y="310.58" font-size="8.4" text-anchor="middle" textLength="44.00" lengthAdjust="spacingAndGlyphs">Time (months)</text>
<line x1="116.30" y1="321.30" x2="127.50" y2="321.30" stroke="#2a4866" stroke-width="0.95" />
<line x1="121.90" y1="320.00" x2="121.90" y2="322.60" stroke="#2a4866" stroke-width="0.7" />
<text x="130.00" y="323.79" font-size="7.0" textLength="15.00" lengthAdjust="spacingAndGlyphs">EMD</text>
<line x1="151.30" y1="321.30" x2="161.30" y2="321.30" stroke="#4fae5a" stroke-width="0.95" />
<line x1="156.30" y1="320.00" x2="156.30" y2="322.60" stroke="#4fae5a" stroke-width="0.7" />
<text x="164.50" y="323.79" font-size="7.0" textLength="25.00" lengthAdjust="spacingAndGlyphs">No EMD</text>
<path d="M320.80,181.00V237.10H513.00" fill="none" stroke="#222" stroke-width="1.1"/>
<line x1="318.00" y1="234.70" x2="320.80" y2="234.70" stroke="#222" stroke-width="1.0" />
<text x="315.20" y="237.04" font-size="6.6" text-anchor="end" textLength="12.80" lengthAdjust="spacingAndGlyphs">0.00</text>
<line x1="318.00" y1="222.32" x2="320.80" y2="222.32" stroke="#222" stroke-width="1.0" />
<text x="315.20" y="224.67" font-size="6.6" text-anchor="end" textLength="12.80" lengthAdjust="spacingAndGlyphs">0.25</text>
<line x1="318.00" y1="209.95" x2="320.80" y2="209.95" stroke="#222" stroke-width="1.0" />
<text x="315.20" y="212.29" font-size="6.6" text-anchor="end" textLength="12.80" lengthAdjust="spacingAndGlyphs">0.50</text>
<line x1="318.00" y1="197.57" x2="320.80" y2="197.57" stroke="#222" stroke-width="1.0" />
<text x="315.20" y="199.92" font-size="6.6" text-anchor="end" textLength="12.80" lengthAdjust="spacingAndGlyphs">0.75</text>
<line x1="318.00" y1="185.20" x2="320.80" y2="185.20" stroke="#222" stroke-width="1.0" />
<text x="315.20" y="187.54" font-size="6.6" text-anchor="end" textLength="12.80" lengthAdjust="spacingAndGlyphs">1.00</text>
<line x1="329.50" y1="237.10" x2="329.50" y2="240.50" stroke="#222" stroke-width="1.0" />
<text x="329.50" y="249.04" font-size="6.6" text-anchor="middle">0</text>
<line x1="342.85" y1="237.10" x2="342.85" y2="240.50" stroke="#222" stroke-width="1.0" />
<text x="342.85" y="249.04" font-size="6.6" text-anchor="middle">3</text>
<line x1="356.20" y1="237.10" x2="356.20" y2="240.50" stroke="#222" stroke-width="1.0" />
<text x="356.20" y="249.04" font-size="6.6" text-anchor="middle">6</text>
<line x1="369.55" y1="237.10" x2="369.55" y2="240.50" stroke="#222" stroke-width="1.0" />
<text x="369.55" y="249.04" font-size="6.6" text-anchor="middle">9</text>
<line x1="382.90" y1="237.10" x2="382.90" y2="240.50" stroke="#222" stroke-width="1.0" />
<text x="382.90" y="249.04" font-size="6.6" text-anchor="middle">12</text>
<line x1="396.25" y1="237.10" x2="396.25" y2="240.50" stroke="#222" stroke-width="1.0" />
<text x="396.25" y="249.04" font-size="6.6" text-anchor="middle">15</text>
<line x1="409.60" y1="237.10" x2="409.60" y2="240.50" stroke="#222" stroke-width="1.0" />
<text x="409.60" y="249.04" font-size="6.6" text-anchor="middle">18</text>
<line x1="422.95" y1="237.10" x2="422.95" y2="240.50" stroke="#222" stroke-width="1.0" />
<text x="422.95" y="249.04" font-size="6.6" text-anchor="middle">21</text>
<line x1="436.30" y1="237.10" x2="436.30" y2="240.50" stroke="#222" stroke-width="1.0" />
<text x="436.30" y="249.04" font-size="6.6" text-anchor="middle">24</text>
<line x1="449.65" y1="237.10" x2="449.65" y2="240.50" stroke="#222" stroke-width="1.0" />
<text x="449.65" y="249.04" font-size="6.6" text-anchor="middle">27</text>
<line x1="463.00" y1="237.10" x2="463.00" y2="240.50" stroke="#222" stroke-width="1.0" />
<text x="463.00" y="249.04" font-size="6.6" text-anchor="middle">30</text>
<line x1="476.35" y1="237.10" x2="476.35" y2="240.50" stroke="#222" stroke-width="1.0" />
<text x="476.35" y="249.04" font-size="6.6" text-anchor="middle">33</text>
<line x1="489.70" y1="237.10" x2="489.70" y2="240.50" stroke="#222" stroke-width="1.0" />
<text x="489.70" y="249.04" font-size="6.6" text-anchor="middle">36</text>
<line x1="503.05" y1="237.10" x2="503.05" y2="240.50" stroke="#222" stroke-width="1.0" />
<text x="503.05" y="249.04" font-size="6.6" text-anchor="middle">39</text>
<text x="414.50" y="262.48" font-size="8.4" text-anchor="middle" textLength="44.00" lengthAdjust="spacingAndGlyphs">Time (months)</text>
<text x="295.50" y="209.65" font-size="7.0" text-anchor="middle" textLength="58.60" lengthAdjust="spacingAndGlyphs" transform="rotate(-90 295.50 209.65)">Survival probability</text>
<text x="417.40" y="176.77" font-size="9.2" text-anchor="middle" textLength="48.50" lengthAdjust="spacingAndGlyphs">PFS: sBCMA</text>
<text x="475.00" y="192.34" font-size="6.6" textLength="32.00" lengthAdjust="spacingAndGlyphs"><tspan font-style="italic">P</tspan> = 3.09e<tspan font-size="4.4" dy="-3.0">−9</tspan></text>
<line x1="329.00" y1="209.50" x2="396.60" y2="209.50" stroke="#707070" stroke-width="1.0" stroke-dasharray="1,1"/>
<line x1="333.50" y1="210.00" x2="333.50" y2="234.70" stroke="#707070" stroke-width="1.0" stroke-dasharray="1,1"/>
<line x1="396.50" y1="210.00" x2="396.50" y2="234.70" stroke="#707070" stroke-width="1.0" stroke-dasharray="1,1"/>
<path d="M329.40,185.00H329.54V185.71H329.69V186.42H329.83V187.13H329.98V187.84H330.12V188.56H330.27V189.27H330.41V189.98H330.56V190.69H330.70V191.40H330.83V192.09H330.96V192.77H331.09V193.46H331.21V194.14H331.34V194.83H331.47V195.51H331.60V196.20H331.85V196.87H332.10V197.53H332.35V198.20H332.60V198.87H332.85V199.53H333.10V200.20H333.11V200.91H333.12V201.62H333.14V202.34H333.15V203.05H333.16V203.76H333.18V204.47H333.19V205.19H333.20V205.90H333.21V206.61H333.23V207.32H333.24V208.04H333.25V208.75H333.26V209.46H333.27V210.18H333.29V210.89H333.30V211.60H333.31V212.31H333.32V213.03H333.34V213.74H333.35V214.45H333.36V215.16H333.38V215.88H333.39V216.59H333.40V217.30H336.00V222.10H341.20V226.50H341.42V227.15H341.63V227.80H341.85V228.45H342.07V229.10H342.28V229.75H342.50V230.40H387.80V230.40H387.80V234.70" fill="none" stroke="#4fae5a" stroke-width="1.15"/>
<path d="M329.40,185.00H332.00V185.30H332.45V185.95H332.90V186.60H333.35V187.25H333.80V187.90H334.02V188.63H334.23V189.37H334.45V190.10H334.67V190.83H334.88V191.57H335.10V192.30H336.20V193.15H337.30V194.00H339.03V194.60H340.77V195.20H342.50V195.80H345.15V196.45H347.80V197.10H350.43V197.83H353.07V198.57H355.70V199.30H357.56V200.04H359.42V200.78H361.28V201.52H363.14V202.26H365.00V203.00H367.33V203.67H369.67V204.33H372.00V205.00H373.50V205.72H375.00V206.44H376.50V207.16H378.00V207.88H379.50V208.60H387.25V209.25H395.00V209.90H400.80V210.45H406.60V211.00H410.40V211.67H414.20V212.33H418.00V213.00H420.88V213.62H423.75V214.25H426.62V214.88H429.50V215.50H443.00V215.90H445.57V216.53H448.13V217.17H450.70V217.80H462.20V218.80H510.00V218.80" fill="none" stroke="#2a4866" stroke-width="1.15"/>
<line x1="434.00" y1="214.10" x2="434.00" y2="216.90" stroke="#2a4866" stroke-width="0.9" />
<line x1="437.00" y1="214.20" x2="437.00" y2="217.00" stroke="#2a4866" stroke-width="0.9" />
<line x1="452.00" y1="216.60" x2="452.00" y2="219.40" stroke="#2a4866" stroke-width="0.9" />
<line x1="455.00" y1="216.70" x2="455.00" y2="219.50" stroke="#2a4866" stroke-width="0.9" />
<line x1="458.00" y1="216.80" x2="458.00" y2="219.60" stroke="#2a4866" stroke-width="0.9" />
<line x1="460.00" y1="217.00" x2="460.00" y2="219.80" stroke="#2a4866" stroke-width="0.9" />
<line x1="466.00" y1="217.40" x2="466.00" y2="220.20" stroke="#2a4866" stroke-width="0.9" />
<line x1="470.00" y1="217.40" x2="470.00" y2="220.20" stroke="#2a4866" stroke-width="0.9" />
<line x1="474.00" y1="217.40" x2="474.00" y2="220.20" stroke="#2a4866" stroke-width="0.9" />
<line x1="477.00" y1="217.40" x2="477.00" y2="220.20" stroke="#2a4866" stroke-width="0.9" />
<line x1="480.00" y1="217.40" x2="480.00" y2="220.20" stroke="#2a4866" stroke-width="0.9" />
<line x1="484.00" y1="217.40" x2="484.00" y2="220.20" stroke="#2a4866" stroke-width="0.9" />
<line x1="486.00" y1="217.40" x2="486.00" y2="220.20" stroke="#2a4866" stroke-width="0.9" />
<line x1="494.00" y1="217.40" x2="494.00" y2="220.20" stroke="#2a4866" stroke-width="0.9" />
<line x1="510.00" y1="217.40" x2="510.00" y2="220.20" stroke="#2a4866" stroke-width="0.9" />
<path d="M320.80,266.40V286.40H513.00" fill="none" stroke="#222" stroke-width="1.1"/>
<line x1="318.30" y1="271.00" x2="320.80" y2="271.00" stroke="#222" stroke-width="1.0" />
<text x="314.60" y="273.49" font-size="7.0" text-anchor="end" textLength="40.00" lengthAdjust="spacingAndGlyphs">sBCMA &lt; 400</text>
<text x="329.50" y="273.34" font-size="6.6" text-anchor="middle">130</text>
<text x="342.85" y="273.34" font-size="6.6" text-anchor="middle">96</text>
<text x="356.20" y="273.34" font-size="6.6" text-anchor="middle">85</text>
<text x="369.55" y="273.34" font-size="6.6" text-anchor="middle">75</text>
<text x="382.90" y="273.34" font-size="6.6" text-anchor="middle">64</text>
<text x="396.25" y="273.34" font-size="6.6" text-anchor="middle">61</text>
<text x="409.60" y="273.34" font-size="6.6" text-anchor="middle">55</text>
<text x="422.95" y="273.34" font-size="6.6" text-anchor="middle">49</text>
<text x="436.30" y="273.34" font-size="6.6" text-anchor="middle">43</text>
<text x="449.65" y="273.34" font-size="6.6" text-anchor="middle">38</text>
<text x="463.00" y="273.34" font-size="6.6" text-anchor="middle">15</text>
<text x="476.35" y="273.34" font-size="6.6" text-anchor="middle">7</text>
<text x="489.70" y="273.34" font-size="6.6" text-anchor="middle">3</text>
<text x="503.05" y="273.34" font-size="6.6" text-anchor="middle">1</text>
<line x1="318.30" y1="280.60" x2="320.80" y2="280.60" stroke="#222" stroke-width="1.0" />
<text x="314.60" y="283.09" font-size="7.0" text-anchor="end" textLength="40.00" lengthAdjust="spacingAndGlyphs">sBCMA ≥ 400</text>
<text x="329.50" y="282.94" font-size="6.6" text-anchor="middle">14</text>
<text x="342.85" y="282.94" font-size="6.6" text-anchor="middle">1</text>
<text x="356.20" y="282.94" font-size="6.6" text-anchor="middle">1</text>
<text x="369.55" y="282.94" font-size="6.6" text-anchor="middle">1</text>
<text x="382.90" y="282.94" font-size="6.6" text-anchor="middle">1</text>
<text x="396.25" y="282.94" font-size="6.6" text-anchor="middle">0</text>
<text x="409.60" y="282.94" font-size="6.6" text-anchor="middle">0</text>
<text x="422.95" y="282.94" font-size="6.6" text-anchor="middle">0</text>
<text x="436.30" y="282.94" font-size="6.6" text-anchor="middle">0</text>
<text x="449.65" y="282.94" font-size="6.6" text-anchor="middle">0</text>
<text x="463.00" y="282.94" font-size="6.6" text-anchor="middle">0</text>
<text x="476.35" y="282.94" font-size="6.6" text-anchor="middle">0</text>
<text x="489.70" y="282.94" font-size="6.6" text-anchor="middle">0</text>
<text x="503.05" y="282.94" font-size="6.6" text-anchor="middle">0</text>
<line x1="329.50" y1="286.40" x2="329.50" y2="289.40" stroke="#222" stroke-width="1.0" />
<text x="329.50" y="298.34" font-size="6.6" text-anchor="middle">0</text>
<line x1="342.85" y1="286.40" x2="342.85" y2="289.40" stroke="#222" stroke-width="1.0" />
<text x="342.85" y="298.34" font-size="6.6" text-anchor="middle">3</text>
<line x1="356.20" y1="286.40" x2="356.20" y2="289.40" stroke="#222" stroke-width="1.0" />
<text x="356.20" y="298.34" font-size="6.6" text-anchor="middle">6</text>
<line x1="369.55" y1="286.40" x2="369.55" y2="289.40" stroke="#222" stroke-width="1.0" />
<text x="369.55" y="298.34" font-size="6.6" text-anchor="middle">9</text>
<line x1="382.90" y1="286.40" x2="382.90" y2="289.40" stroke="#222" stroke-width="1.0" />
<text x="382.90" y="298.34" font-size="6.6" text-anchor="middle">12</text>
<line x1="396.25" y1="286.40" x2="396.25" y2="289.40" stroke="#222" stroke-width="1.0" />
<text x="396.25" y="298.34" font-size="6.6" text-anchor="middle">15</text>
<line x1="409.60" y1="286.40" x2="409.60" y2="289.40" stroke="#222" stroke-width="1.0" />
<text x="409.60" y="298.34" font-size="6.6" text-anchor="middle">18</text>
<line x1="422.95" y1="286.40" x2="422.95" y2="289.40" stroke="#222" stroke-width="1.0" />
<text x="422.95" y="298.34" font-size="6.6" text-anchor="middle">21</text>
<line x1="436.30" y1="286.40" x2="436.30" y2="289.40" stroke="#222" stroke-width="1.0" />
<text x="436.30" y="298.34" font-size="6.6" text-anchor="middle">24</text>
<line x1="449.65" y1="286.40" x2="449.65" y2="289.40" stroke="#222" stroke-width="1.0" />
<text x="449.65" y="298.34" font-size="6.6" text-anchor="middle">27</text>
<line x1="463.00" y1="286.40" x2="463.00" y2="289.40" stroke="#222" stroke-width="1.0" />
<text x="463.00" y="298.34" font-size="6.6" text-anchor="middle">30</text>
<line x1="476.35" y1="286.40" x2="476.35" y2="289.40" stroke="#222" stroke-width="1.0" />
<text x="476.35" y="298.34" font-size="6.6" text-anchor="middle">33</text>
<line x1="489.70" y1="286.40" x2="489.70" y2="289.40" stroke="#222" stroke-width="1.0" />
<text x="489.70" y="298.34" font-size="6.6" text-anchor="middle">36</text>
<line x1="503.05" y1="286.40" x2="503.05" y2="289.40" stroke="#222" stroke-width="1.0" />
<text x="503.05" y="298.34" font-size="6.6" text-anchor="middle">39</text>
<text x="411.90" y="310.58" font-size="8.4" text-anchor="middle" textLength="44.00" lengthAdjust="spacingAndGlyphs">Time (months)</text>
<line x1="339.80" y1="322.00" x2="350.60" y2="322.00" stroke="#2a4866" stroke-width="0.95" />
<line x1="345.20" y1="320.70" x2="345.20" y2="323.30" stroke="#2a4866" stroke-width="0.7" />
<text x="353.50" y="324.49" font-size="7.0" textLength="60.50" lengthAdjust="spacingAndGlyphs">sBCMA &lt; 400 <tspan font-style="italic">ng/mL</tspan></text>
<line x1="419.90" y1="322.00" x2="431.30" y2="322.00" stroke="#4fae5a" stroke-width="0.95" />
<line x1="425.60" y1="320.70" x2="425.60" y2="323.30" stroke="#4fae5a" stroke-width="0.7" />
<text x="434.00" y="324.49" font-size="7.0" textLength="58.40" lengthAdjust="spacingAndGlyphs">sBCMA ≥ 400 <tspan font-style="italic">ng/mL</tspan></text>
<path d="M53.10,353.40V423.20H242.30" fill="none" stroke="#222" stroke-width="1.1"/>
<line x1="50.30" y1="420.00" x2="53.10" y2="420.00" stroke="#222" stroke-width="1.0" />
<text x="47.50" y="422.34" font-size="6.6" text-anchor="end" textLength="12.80" lengthAdjust="spacingAndGlyphs">0.00</text>
<line x1="50.30" y1="404.20" x2="53.10" y2="404.20" stroke="#222" stroke-width="1.0" />
<text x="47.50" y="406.54" font-size="6.6" text-anchor="end" textLength="12.80" lengthAdjust="spacingAndGlyphs">0.25</text>
<line x1="50.30" y1="388.40" x2="53.10" y2="388.40" stroke="#222" stroke-width="1.0" />
<text x="47.50" y="390.74" font-size="6.6" text-anchor="end" textLength="12.80" lengthAdjust="spacingAndGlyphs">0.50</text>
<line x1="50.30" y1="372.60" x2="53.10" y2="372.60" stroke="#222" stroke-width="1.0" />
<text x="47.50" y="374.94" font-size="6.6" text-anchor="end" textLength="12.80" lengthAdjust="spacingAndGlyphs">0.75</text>
<line x1="50.30" y1="356.80" x2="53.10" y2="356.80" stroke="#222" stroke-width="1.0" />
<text x="47.50" y="359.14" font-size="6.6" text-anchor="end" textLength="12.80" lengthAdjust="spacingAndGlyphs">1.00</text>
<line x1="62.30" y1="423.20" x2="62.30" y2="426.60" stroke="#222" stroke-width="1.0" />
<text x="62.30" y="434.84" font-size="6.6" text-anchor="middle">0</text>
<line x1="75.36" y1="423.20" x2="75.36" y2="426.60" stroke="#222" stroke-width="1.0" />
<text x="75.36" y="434.84" font-size="6.6" text-anchor="middle">3</text>
<line x1="88.42" y1="423.20" x2="88.42" y2="426.60" stroke="#222" stroke-width="1.0" />
<text x="88.42" y="434.84" font-size="6.6" text-anchor="middle">6</text>
<line x1="101.48" y1="423.20" x2="101.48" y2="426.60" stroke="#222" stroke-width="1.0" />
<text x="101.48" y="434.84" font-size="6.6" text-anchor="middle">9</text>
<line x1="114.54" y1="423.20" x2="114.54" y2="426.60" stroke="#222" stroke-width="1.0" />
<text x="114.54" y="434.84" font-size="6.6" text-anchor="middle">12</text>
<line x1="127.60" y1="423.20" x2="127.60" y2="426.60" stroke="#222" stroke-width="1.0" />
<text x="127.60" y="434.84" font-size="6.6" text-anchor="middle">15</text>
<line x1="140.66" y1="423.20" x2="140.66" y2="426.60" stroke="#222" stroke-width="1.0" />
<text x="140.66" y="434.84" font-size="6.6" text-anchor="middle">18</text>
<line x1="153.72" y1="423.20" x2="153.72" y2="426.60" stroke="#222" stroke-width="1.0" />
<text x="153.72" y="434.84" font-size="6.6" text-anchor="middle">21</text>
<line x1="166.78" y1="423.20" x2="166.78" y2="426.60" stroke="#222" stroke-width="1.0" />
<text x="166.78" y="434.84" font-size="6.6" text-anchor="middle">24</text>
<line x1="179.84" y1="423.20" x2="179.84" y2="426.60" stroke="#222" stroke-width="1.0" />
<text x="179.84" y="434.84" font-size="6.6" text-anchor="middle">27</text>
<line x1="192.90" y1="423.20" x2="192.90" y2="426.60" stroke="#222" stroke-width="1.0" />
<text x="192.90" y="434.84" font-size="6.6" text-anchor="middle">30</text>
<line x1="205.96" y1="423.20" x2="205.96" y2="426.60" stroke="#222" stroke-width="1.0" />
<text x="205.96" y="434.84" font-size="6.6" text-anchor="middle">33</text>
<line x1="219.02" y1="423.20" x2="219.02" y2="426.60" stroke="#222" stroke-width="1.0" />
<text x="219.02" y="434.84" font-size="6.6" text-anchor="middle">36</text>
<line x1="232.08" y1="423.20" x2="232.08" y2="426.60" stroke="#222" stroke-width="1.0" />
<text x="232.08" y="434.84" font-size="6.6" text-anchor="middle">39</text>
<text x="148.40" y="446.68" font-size="8.4" text-anchor="middle" textLength="44.00" lengthAdjust="spacingAndGlyphs">Time (months)</text>
<text x="28.70" y="388.90" font-size="7.0" text-anchor="middle" textLength="58.60" lengthAdjust="spacingAndGlyphs" transform="rotate(-90 28.70 388.90)">Survival probability</text>
<text x="148.30" y="349.57" font-size="9.2" text-anchor="middle" textLength="78.50" lengthAdjust="spacingAndGlyphs">PFS: EMD subgroup</text>
<text x="205.60" y="364.04" font-size="6.6" textLength="23.60" lengthAdjust="spacingAndGlyphs"><tspan font-style="italic">P</tspan> = .077</text>
<line x1="62.00" y1="388.50" x2="87.40" y2="388.50" stroke="#707070" stroke-width="1.0" stroke-dasharray="1,1"/>
<line x1="66.50" y1="389.00" x2="66.50" y2="420.00" stroke="#707070" stroke-width="1.0" stroke-dasharray="1,1"/>
<line x1="87.50" y1="389.00" x2="87.50" y2="420.00" stroke="#707070" stroke-width="1.0" stroke-dasharray="1,1"/>
<path d="M62.90,356.80H62.94V357.51H62.98V358.22H63.03V358.92H63.07V359.63H63.11V360.34H63.15V361.05H63.20V361.75H63.24V362.46H63.28V363.17H63.32V363.88H63.37V364.58H63.41V365.29H63.45V366.00H63.49V366.71H63.53V367.42H63.58V368.12H63.62V368.83H63.66V369.54H63.70V370.25H63.75V370.95H63.79V371.66H63.83V372.37H63.87V373.08H63.92V373.78H63.96V374.49H64.00V375.20H65.10V376.30H66.20V401.00H69.00V407.00H118.80V413.50H227.70V413.50" fill="none" stroke="#4fae5a" stroke-width="1.15"/>
<path d="M62.90,356.80H65.10V356.80H65.13V357.50H65.17V358.20H65.20V358.90H65.23V359.60H65.27V360.30H65.30V361.00H65.33V361.70H65.37V362.40H65.40V363.10H65.43V363.80H65.47V364.50H65.50V365.20H65.53V365.90H65.57V366.60H65.60V367.30H65.63V368.00H65.67V368.70H65.70V369.40H65.73V370.10H65.77V370.80H65.80V371.50H65.83V372.20H65.87V372.90H65.90V373.60H66.60V374.15H67.30V374.70H67.42V375.46H67.54V376.22H67.66V376.98H67.78V377.74H67.90V378.50H68.12V379.26H68.34V380.02H68.56V380.78H68.78V381.54H69.00V382.30H80.50V386.20H87.40V390.60H93.30V395.00H106.50V399.60H139.20V403.30H204.20V403.30" fill="none" stroke="#2a4866" stroke-width="1.15"/>
<line x1="227.70" y1="412.10" x2="227.70" y2="414.90" stroke="#4fae5a" stroke-width="0.9" />
<line x1="183.00" y1="401.90" x2="183.00" y2="404.70" stroke="#2a4866" stroke-width="0.9" />
<line x1="187.00" y1="401.90" x2="187.00" y2="404.70" stroke="#2a4866" stroke-width="0.9" />
<line x1="196.50" y1="401.90" x2="196.50" y2="404.70" stroke="#2a4866" stroke-width="0.9" />
<line x1="204.20" y1="401.90" x2="204.20" y2="404.70" stroke="#2a4866" stroke-width="0.9" />
<path d="M53.10,452.40V472.50H242.30" fill="none" stroke="#222" stroke-width="1.1"/>
<line x1="50.60" y1="457.00" x2="53.10" y2="457.00" stroke="#222" stroke-width="1.0" />
<text x="46.90" y="459.49" font-size="7.0" text-anchor="end" textLength="40.00" lengthAdjust="spacingAndGlyphs">sBCMA &lt; 400</text>
<text x="62.30" y="459.34" font-size="6.6" text-anchor="middle">16</text>
<text x="75.36" y="459.34" font-size="6.6" text-anchor="middle">9</text>
<text x="88.42" y="459.34" font-size="6.6" text-anchor="middle">7</text>
<text x="101.48" y="459.34" font-size="6.6" text-anchor="middle">6</text>
<text x="114.54" y="459.34" font-size="6.6" text-anchor="middle">5</text>
<text x="127.60" y="459.34" font-size="6.6" text-anchor="middle">5</text>
<text x="140.66" y="459.34" font-size="6.6" text-anchor="middle">4</text>
<text x="153.72" y="459.34" font-size="6.6" text-anchor="middle">4</text>
<text x="166.78" y="459.34" font-size="6.6" text-anchor="middle">4</text>
<text x="179.84" y="459.34" font-size="6.6" text-anchor="middle">4</text>
<text x="192.90" y="459.34" font-size="6.6" text-anchor="middle">2</text>
<text x="205.96" y="459.34" font-size="6.6" text-anchor="middle">0</text>
<text x="219.02" y="459.34" font-size="6.6" text-anchor="middle">0</text>
<text x="232.08" y="459.34" font-size="6.6" text-anchor="middle">0</text>
<line x1="50.60" y1="466.30" x2="53.10" y2="466.30" stroke="#222" stroke-width="1.0" />
<text x="46.90" y="468.79" font-size="7.0" text-anchor="end" textLength="40.00" lengthAdjust="spacingAndGlyphs">sBCMA ≥ 400</text>
<text x="62.30" y="468.64" font-size="6.6" text-anchor="middle">11</text>
<text x="75.36" y="468.64" font-size="6.6" text-anchor="middle">2</text>
<text x="88.42" y="468.64" font-size="6.6" text-anchor="middle">2</text>
<text x="101.48" y="468.64" font-size="6.6" text-anchor="middle">2</text>
<text x="114.54" y="468.64" font-size="6.6" text-anchor="middle">2</text>
<text x="127.60" y="468.64" font-size="6.6" text-anchor="middle">1</text>
<text x="140.66" y="468.64" font-size="6.6" text-anchor="middle">1</text>
<text x="153.72" y="468.64" font-size="6.6" text-anchor="middle">1</text>
<text x="166.78" y="468.64" font-size="6.6" text-anchor="middle">1</text>
<text x="179.84" y="468.64" font-size="6.6" text-anchor="middle">1</text>
<text x="192.90" y="468.64" font-size="6.6" text-anchor="middle">1</text>
<text x="205.96" y="468.64" font-size="6.6" text-anchor="middle">1</text>
<text x="219.02" y="468.64" font-size="6.6" text-anchor="middle">1</text>
<text x="232.08" y="468.64" font-size="6.6" text-anchor="middle">0</text>
<line x1="62.30" y1="472.50" x2="62.30" y2="475.50" stroke="#222" stroke-width="1.0" />
<text x="62.30" y="484.34" font-size="6.6" text-anchor="middle">0</text>
<line x1="75.36" y1="472.50" x2="75.36" y2="475.50" stroke="#222" stroke-width="1.0" />
<text x="75.36" y="484.34" font-size="6.6" text-anchor="middle">3</text>
<line x1="88.42" y1="472.50" x2="88.42" y2="475.50" stroke="#222" stroke-width="1.0" />
<text x="88.42" y="484.34" font-size="6.6" text-anchor="middle">6</text>
<line x1="101.48" y1="472.50" x2="101.48" y2="475.50" stroke="#222" stroke-width="1.0" />
<text x="101.48" y="484.34" font-size="6.6" text-anchor="middle">9</text>
<line x1="114.54" y1="472.50" x2="114.54" y2="475.50" stroke="#222" stroke-width="1.0" />
<text x="114.54" y="484.34" font-size="6.6" text-anchor="middle">12</text>
<line x1="127.60" y1="472.50" x2="127.60" y2="475.50" stroke="#222" stroke-width="1.0" />
<text x="127.60" y="484.34" font-size="6.6" text-anchor="middle">15</text>
<line x1="140.66" y1="472.50" x2="140.66" y2="475.50" stroke="#222" stroke-width="1.0" />
<text x="140.66" y="484.34" font-size="6.6" text-anchor="middle">18</text>
<line x1="153.72" y1="472.50" x2="153.72" y2="475.50" stroke="#222" stroke-width="1.0" />
<text x="153.72" y="484.34" font-size="6.6" text-anchor="middle">21</text>
<line x1="166.78" y1="472.50" x2="166.78" y2="475.50" stroke="#222" stroke-width="1.0" />
<text x="166.78" y="484.34" font-size="6.6" text-anchor="middle">24</text>
<line x1="179.84" y1="472.50" x2="179.84" y2="475.50" stroke="#222" stroke-width="1.0" />
<text x="179.84" y="484.34" font-size="6.6" text-anchor="middle">27</text>
<line x1="192.90" y1="472.50" x2="192.90" y2="475.50" stroke="#222" stroke-width="1.0" />
<text x="192.90" y="484.34" font-size="6.6" text-anchor="middle">30</text>
<line x1="205.96" y1="472.50" x2="205.96" y2="475.50" stroke="#222" stroke-width="1.0" />
<text x="205.96" y="484.34" font-size="6.6" text-anchor="middle">33</text>
<line x1="219.02" y1="472.50" x2="219.02" y2="475.50" stroke="#222" stroke-width="1.0" />
<text x="219.02" y="484.34" font-size="6.6" text-anchor="middle">36</text>
<line x1="232.08" y1="472.50" x2="232.08" y2="475.50" stroke="#222" stroke-width="1.0" />
<text x="232.08" y="484.34" font-size="6.6" text-anchor="middle">39</text>
<text x="148.40" y="496.48" font-size="8.4" text-anchor="middle" textLength="44.00" lengthAdjust="spacingAndGlyphs">Time (months)</text>
<line x1="77.30" y1="507.60" x2="87.70" y2="507.60" stroke="#2a4866" stroke-width="0.95" />
<line x1="82.50" y1="506.30" x2="82.50" y2="508.90" stroke="#2a4866" stroke-width="0.7" />
<text x="90.80" y="510.09" font-size="7.0" textLength="60.70" lengthAdjust="spacingAndGlyphs">sBCMA &lt; 400 ng/mL</text>
<line x1="158.00" y1="507.60" x2="168.80" y2="507.60" stroke="#4fae5a" stroke-width="0.95" />
<line x1="163.40" y1="506.30" x2="163.40" y2="508.90" stroke="#4fae5a" stroke-width="0.7" />
<text x="171.50" y="510.09" font-size="7.0" textLength="59.70" lengthAdjust="spacingAndGlyphs">sBCMA ≥ 400 ng/mL</text>
<path d="M320.70,353.40V423.20H503.70" fill="none" stroke="#222" stroke-width="1.1"/>
<line x1="317.90" y1="420.10" x2="320.70" y2="420.10" stroke="#222" stroke-width="1.0" />
<text x="315.10" y="422.44" font-size="6.6" text-anchor="end" textLength="12.80" lengthAdjust="spacingAndGlyphs">0.00</text>
<line x1="317.90" y1="404.28" x2="320.70" y2="404.28" stroke="#222" stroke-width="1.0" />
<text x="315.10" y="406.62" font-size="6.6" text-anchor="end" textLength="12.80" lengthAdjust="spacingAndGlyphs">0.25</text>
<line x1="317.90" y1="388.45" x2="320.70" y2="388.45" stroke="#222" stroke-width="1.0" />
<text x="315.10" y="390.79" font-size="6.6" text-anchor="end" textLength="12.80" lengthAdjust="spacingAndGlyphs">0.50</text>
<line x1="317.90" y1="372.62" x2="320.70" y2="372.62" stroke="#222" stroke-width="1.0" />
<text x="315.10" y="374.97" font-size="6.6" text-anchor="end" textLength="12.80" lengthAdjust="spacingAndGlyphs">0.75</text>
<line x1="317.90" y1="356.80" x2="320.70" y2="356.80" stroke="#222" stroke-width="1.0" />
<text x="315.10" y="359.14" font-size="6.6" text-anchor="end" textLength="12.80" lengthAdjust="spacingAndGlyphs">1.00</text>
<line x1="329.20" y1="423.20" x2="329.20" y2="426.60" stroke="#222" stroke-width="1.0" />
<text x="329.20" y="434.84" font-size="6.6" text-anchor="middle">0</text>
<line x1="341.85" y1="423.20" x2="341.85" y2="426.60" stroke="#222" stroke-width="1.0" />
<text x="341.85" y="434.84" font-size="6.6" text-anchor="middle">3</text>
<line x1="354.50" y1="423.20" x2="354.50" y2="426.60" stroke="#222" stroke-width="1.0" />
<text x="354.50" y="434.84" font-size="6.6" text-anchor="middle">6</text>
<line x1="367.15" y1="423.20" x2="367.15" y2="426.60" stroke="#222" stroke-width="1.0" />
<text x="367.15" y="434.84" font-size="6.6" text-anchor="middle">9</text>
<line x1="379.80" y1="423.20" x2="379.80" y2="426.60" stroke="#222" stroke-width="1.0" />
<text x="379.80" y="434.84" font-size="6.6" text-anchor="middle">12</text>
<line x1="392.45" y1="423.20" x2="392.45" y2="426.60" stroke="#222" stroke-width="1.0" />
<text x="392.45" y="434.84" font-size="6.6" text-anchor="middle">15</text>
<line x1="405.10" y1="423.20" x2="405.10" y2="426.60" stroke="#222" stroke-width="1.0" />
<text x="405.10" y="434.84" font-size="6.6" text-anchor="middle">18</text>
<line x1="417.75" y1="423.20" x2="417.75" y2="426.60" stroke="#222" stroke-width="1.0" />
<text x="417.75" y="434.84" font-size="6.6" text-anchor="middle">21</text>
<line x1="430.40" y1="423.20" x2="430.40" y2="426.60" stroke="#222" stroke-width="1.0" />
<text x="430.40" y="434.84" font-size="6.6" text-anchor="middle">24</text>
<line x1="443.05" y1="423.20" x2="443.05" y2="426.60" stroke="#222" stroke-width="1.0" />
<text x="443.05" y="434.84" font-size="6.6" text-anchor="middle">27</text>
<line x1="455.70" y1="423.20" x2="455.70" y2="426.60" stroke="#222" stroke-width="1.0" />
<text x="455.70" y="434.84" font-size="6.6" text-anchor="middle">30</text>
<line x1="468.35" y1="423.20" x2="468.35" y2="426.60" stroke="#222" stroke-width="1.0" />
<text x="468.35" y="434.84" font-size="6.6" text-anchor="middle">33</text>
<line x1="481.00" y1="423.20" x2="481.00" y2="426.60" stroke="#222" stroke-width="1.0" />
<text x="481.00" y="434.84" font-size="6.6" text-anchor="middle">36</text>
<line x1="493.65" y1="423.20" x2="493.65" y2="426.60" stroke="#222" stroke-width="1.0" />
<text x="493.65" y="434.84" font-size="6.6" text-anchor="middle">39</text>
<text x="413.00" y="446.68" font-size="8.4" text-anchor="middle" textLength="44.00" lengthAdjust="spacingAndGlyphs">Time (months)</text>
<text x="295.70" y="388.90" font-size="7.0" text-anchor="middle" textLength="58.60" lengthAdjust="spacingAndGlyphs" transform="rotate(-90 295.70 388.90)">Survival probability</text>
<text x="411.90" y="349.07" font-size="9.2" text-anchor="middle" textLength="78.70" lengthAdjust="spacingAndGlyphs">PFS: EMD subgroup</text>
<text x="463.80" y="363.54" font-size="6.6" textLength="24.50" lengthAdjust="spacingAndGlyphs"><tspan font-style="italic">P</tspan> = .015</text>
<line x1="329.00" y1="388.50" x2="365.60" y2="388.50" stroke="#707070" stroke-width="1.0" stroke-dasharray="1,1"/>
<line x1="332.50" y1="389.00" x2="332.50" y2="420.10" stroke="#707070" stroke-width="1.0" stroke-dasharray="1,1"/>
<line x1="365.50" y1="389.00" x2="365.50" y2="420.10" stroke="#707070" stroke-width="1.0" stroke-dasharray="1,1"/>
<path d="M329.40,356.80H329.48V357.50H329.55V358.19H329.63V358.89H329.70V359.58H329.78V360.28H329.86V360.97H329.93V361.67H330.01V362.36H330.09V363.06H330.16V363.75H330.24V364.45H330.31V365.14H330.39V365.84H330.47V366.53H330.54V367.23H330.62V367.92H330.70V368.62H330.77V369.31H330.85V370.01H330.92V370.70H331.00V371.40H332.10V371.90H332.10V400.40H334.90V400.40H334.98V401.13H335.07V401.87H335.15V402.60H335.23V403.33H335.32V404.07H335.40V404.80H335.47V405.46H335.55V406.12H335.62V406.79H335.70V407.45H335.77V408.11H335.85V408.78H335.93V409.44H336.00V410.10H384.50V415.40H489.60V415.40" fill="none" stroke="#4fae5a" stroke-width="1.15"/>
<path d="M329.40,356.80H332.10V356.80H332.17V357.51H332.23V358.22H332.30V358.93H332.37V359.64H332.43V360.36H332.50V361.07H332.57V361.78H332.63V362.49H332.70V363.20H332.88V363.96H333.06V364.72H333.24V365.48H333.42V366.24H333.60V367.00H333.69V367.69H333.78V368.38H333.86V369.06H333.95V369.75H334.04V370.44H334.12V371.12H334.21V371.81H334.30V372.50H346.40V378.00H353.70V382.90H359.20V388.40H372.10V393.90H403.70V399.00H466.70V399.00" fill="none" stroke="#2a4866" stroke-width="1.15"/>
<line x1="489.60" y1="414.00" x2="489.60" y2="416.80" stroke="#4fae5a" stroke-width="0.9" />
<line x1="447.00" y1="397.60" x2="447.00" y2="400.40" stroke="#2a4866" stroke-width="0.9" />
<line x1="450.40" y1="397.60" x2="450.40" y2="400.40" stroke="#2a4866" stroke-width="0.9" />
<line x1="460.00" y1="397.60" x2="460.00" y2="400.40" stroke="#2a4866" stroke-width="0.9" />
<line x1="466.70" y1="397.60" x2="466.70" y2="400.40" stroke="#2a4866" stroke-width="0.9" />
<path d="M320.70,452.40V472.50H503.70" fill="none" stroke="#222" stroke-width="1.1"/>
<line x1="318.20" y1="457.00" x2="320.70" y2="457.00" stroke="#222" stroke-width="1.0" />
<text x="314.50" y="459.49" font-size="7.0" text-anchor="end" textLength="50.75" lengthAdjust="spacingAndGlyphs">sBCMA &lt; median</text>
<text x="329.20" y="459.34" font-size="6.6" text-anchor="middle">13</text>
<text x="341.85" y="459.34" font-size="6.6" text-anchor="middle">9</text>
<text x="354.50" y="459.34" font-size="6.6" text-anchor="middle">7</text>
<text x="367.15" y="459.34" font-size="6.6" text-anchor="middle">6</text>
<text x="379.80" y="459.34" font-size="6.6" text-anchor="middle">5</text>
<text x="392.45" y="459.34" font-size="6.6" text-anchor="middle">5</text>
<text x="405.10" y="459.34" font-size="6.6" text-anchor="middle">4</text>
<text x="417.75" y="459.34" font-size="6.6" text-anchor="middle">4</text>
<text x="430.40" y="459.34" font-size="6.6" text-anchor="middle">4</text>
<text x="443.05" y="459.34" font-size="6.6" text-anchor="middle">4</text>
<text x="455.70" y="459.34" font-size="6.6" text-anchor="middle">2</text>
<text x="468.35" y="459.34" font-size="6.6" text-anchor="middle">0</text>
<text x="481.00" y="459.34" font-size="6.6" text-anchor="middle">0</text>
<text x="493.65" y="459.34" font-size="6.6" text-anchor="middle">0</text>
<line x1="318.20" y1="466.50" x2="320.70" y2="466.50" stroke="#222" stroke-width="1.0" />
<text x="314.50" y="468.99" font-size="7.0" text-anchor="end" textLength="50.75" lengthAdjust="spacingAndGlyphs">sBCMA ≥ median</text>
<text x="329.20" y="468.84" font-size="6.6" text-anchor="middle">14</text>
<text x="341.85" y="468.84" font-size="6.6" text-anchor="middle">2</text>
<text x="354.50" y="468.84" font-size="6.6" text-anchor="middle">2</text>
<text x="367.15" y="468.84" font-size="6.6" text-anchor="middle">2</text>
<text x="379.80" y="468.84" font-size="6.6" text-anchor="middle">2</text>
<text x="392.45" y="468.84" font-size="6.6" text-anchor="middle">1</text>
<text x="405.10" y="468.84" font-size="6.6" text-anchor="middle">1</text>
<text x="417.75" y="468.84" font-size="6.6" text-anchor="middle">1</text>
<text x="430.40" y="468.84" font-size="6.6" text-anchor="middle">1</text>
<text x="443.05" y="468.84" font-size="6.6" text-anchor="middle">1</text>
<text x="455.70" y="468.84" font-size="6.6" text-anchor="middle">1</text>
<text x="468.35" y="468.84" font-size="6.6" text-anchor="middle">1</text>
<text x="481.00" y="468.84" font-size="6.6" text-anchor="middle">1</text>
<text x="493.65" y="468.84" font-size="6.6" text-anchor="middle">0</text>
<line x1="329.20" y1="472.50" x2="329.20" y2="475.50" stroke="#222" stroke-width="1.0" />
<text x="329.20" y="484.34" font-size="6.6" text-anchor="middle">0</text>
<line x1="341.85" y1="472.50" x2="341.85" y2="475.50" stroke="#222" stroke-width="1.0" />
<text x="341.85" y="484.34" font-size="6.6" text-anchor="middle">3</text>
<line x1="354.50" y1="472.50" x2="354.50" y2="475.50" stroke="#222" stroke-width="1.0" />
<text x="354.50" y="484.34" font-size="6.6" text-anchor="middle">6</text>
<line x1="367.15" y1="472.50" x2="367.15" y2="475.50" stroke="#222" stroke-width="1.0" />
<text x="367.15" y="484.34" font-size="6.6" text-anchor="middle">9</text>
<line x1="379.80" y1="472.50" x2="379.80" y2="475.50" stroke="#222" stroke-width="1.0" />
<text x="379.80" y="484.34" font-size="6.6" text-anchor="middle">12</text>
<line x1="392.45" y1="472.50" x2="392.45" y2="475.50" stroke="#222" stroke-width="1.0" />
<text x="392.45" y="484.34" font-size="6.6" text-anchor="middle">15</text>
<line x1="405.10" y1="472.50" x2="405.10" y2="475.50" stroke="#222" stroke-width="1.0" />
<text x="405.10" y="484.34" font-size="6.6" text-anchor="middle">18</text>
<line x1="417.75" y1="472.50" x2="417.75" y2="475.50" stroke="#222" stroke-width="1.0" />
<text x="417.75" y="484.34" font-size="6.6" text-anchor="middle">21</text>
<line x1="430.40" y1="472.50" x2="430.40" y2="475.50" stroke="#222" stroke-width="1.0" />
<text x="430.40" y="484.34" font-size="6.6" text-anchor="middle">24</text>
<line x1="443.05" y1="472.50" x2="443.05" y2="475.50" stroke="#222" stroke-width="1.0" />
<text x="443.05" y="484.34" font-size="6.6" text-anchor="middle">27</text>
<line x1="455.70" y1="472.50" x2="455.70" y2="475.50" stroke="#222" stroke-width="1.0" />
<text x="455.70" y="484.34" font-size="6.6" text-anchor="middle">30</text>
<line x1="468.35" y1="472.50" x2="468.35" y2="475.50" stroke="#222" stroke-width="1.0" />
<text x="468.35" y="484.34" font-size="6.6" text-anchor="middle">33</text>
<line x1="481.00" y1="472.50" x2="481.00" y2="475.50" stroke="#222" stroke-width="1.0" />
<text x="481.00" y="484.34" font-size="6.6" text-anchor="middle">36</text>
<line x1="493.65" y1="472.50" x2="493.65" y2="475.50" stroke="#222" stroke-width="1.0" />
<text x="493.65" y="484.34" font-size="6.6" text-anchor="middle">39</text>
<text x="412.50" y="496.48" font-size="8.4" text-anchor="middle" textLength="44.00" lengthAdjust="spacingAndGlyphs">Time (months)</text>
<line x1="323.80" y1="507.70" x2="334.60" y2="507.70" stroke="#2a4866" stroke-width="0.95" />
<line x1="329.20" y1="506.40" x2="329.20" y2="509.00" stroke="#2a4866" stroke-width="0.7" />
<text x="337.30" y="510.19" font-size="7.0" textLength="94.20" lengthAdjust="spacingAndGlyphs">sBCMA &lt; median (259.7 ng/mL)</text>
<line x1="437.30" y1="507.70" x2="448.00" y2="507.70" stroke="#4fae5a" stroke-width="0.95" />
<line x1="442.65" y1="506.40" x2="442.65" y2="509.00" stroke="#4fae5a" stroke-width="0.7" />
<text x="450.80" y="510.19" font-size="7.0" textLength="50.00" lengthAdjust="spacingAndGlyphs">sBCMA ≥ median</text>
<text x="131.70" y="542.41" font-size="6.8" textLength="29.80" lengthAdjust="spacingAndGlyphs">Parameter</text>
<text x="177.50" y="542.41" font-size="6.8" textLength="63.40" lengthAdjust="spacingAndGlyphs">Hazard Ratio (95% CI)</text>
<text x="393.50" y="545.41" font-size="6.8" textLength="21.10" lengthAdjust="spacingAndGlyphs" font-style="italic">P-value</text>
<line x1="256.90" y1="527.00" x2="256.90" y2="651.00" stroke="#444" stroke-width="0.9" stroke-dasharray="1,1"/>
<text x="140.00" y="585.01" font-size="6.8" textLength="14.50" lengthAdjust="spacingAndGlyphs">EMD</text>
<text x="183.00" y="585.01" font-size="6.8" textLength="44.70" lengthAdjust="spacingAndGlyphs">1.74 (0.96-3.16)</text>
<text x="398.50" y="579.41" font-size="6.8" textLength="9.20" lengthAdjust="spacingAndGlyphs">.07</text>
<text x="120.00" y="627.51" font-size="6.8" textLength="53.80" lengthAdjust="spacingAndGlyphs">sBCMA 400ng/mL</text>
<text x="183.00" y="627.51" font-size="6.8" textLength="49.30" lengthAdjust="spacingAndGlyphs">4.99 (2.38-10.47)</text>
<text x="394.60" y="624.41" font-size="6.8" textLength="18.90" lengthAdjust="spacingAndGlyphs">&lt; .001</text>
<line x1="256.50" y1="582.90" x2="284.60" y2="582.90" stroke="#5a5a5a" stroke-width="1.5" />
<line x1="274.20" y1="625.80" x2="376.30" y2="625.80" stroke="#5a5a5a" stroke-width="1.5" />
<circle cx="266.2" cy="582.9" r="1.9" fill="#8e0c28"/>
<circle cx="307.6" cy="625.8" r="1.9" fill="#8e0c28"/>
<line x1="237.70" y1="651.50" x2="389.60" y2="651.50" stroke="#222" stroke-width="1.1" />
<line x1="244.20" y1="651.50" x2="244.20" y2="654.50" stroke="#222" stroke-width="1.0" />
<text x="244.20" y="662.67" font-size="6.4" text-anchor="middle">0</text>
<line x1="281.90" y1="651.50" x2="281.90" y2="654.50" stroke="#222" stroke-width="1.0" />
<text x="281.90" y="662.67" font-size="6.4" text-anchor="middle">3</text>
<line x1="320.00" y1="651.50" x2="320.00" y2="654.50" stroke="#222" stroke-width="1.0" />
<text x="320.00" y="662.67" font-size="6.4" text-anchor="middle">6</text>
<line x1="357.70" y1="651.50" x2="357.70" y2="654.50" stroke="#222" stroke-width="1.0" />
<text x="357.70" y="662.67" font-size="6.4" text-anchor="middle">9</text>
<text x="314.30" y="675.51" font-size="8.2" text-anchor="middle" textLength="36.50" lengthAdjust="spacingAndGlyphs">Hazard ratio</text>
<text x="6.80" y="16.32" font-size="11.6" font-weight="bold" fill="#111">A</text>
<text x="6.80" y="351.42" font-size="11.6" font-weight="bold" fill="#111">B</text>
<text x="103.50" y="537.02" font-size="11.6" font-weight="bold" fill="#111">C</text>
<rect x="0" y="0" width="1.2" height="684" fill="#606060"/>
<rect x="0" y="0" width="520" height="1.1" fill="#656565"/>
<rect x="518.8" y="0" width="1.2" height="684" fill="#555"/>
<rect x="0" y="682.7" width="520" height="1.3" fill="#555"/>
</svg>
</body></html>
